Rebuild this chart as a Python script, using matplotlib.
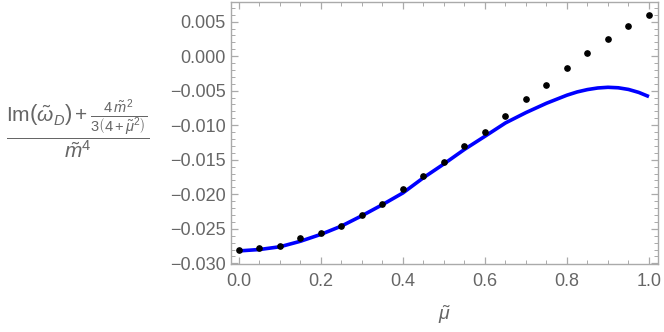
import matplotlib.pyplot as plt
from matplotlib.ticker import MultipleLocator

plt.rcParams['mathtext.fontset'] = 'custom'
plt.rcParams['mathtext.rm'] = 'Liberation Sans'
plt.rcParams['mathtext.it'] = 'Liberation Sans:italic'
plt.rcParams['mathtext.bf'] = 'Liberation Sans:bold'
plt.rcParams['font.family'] = 'Liberation Sans'

# numerical points
mu_pts = [0.0, 0.05, 0.1, 0.15, 0.2, 0.25, 0.3, 0.35, 0.4, 0.45, 0.5,
          0.55, 0.6, 0.65, 0.7, 0.75, 0.8, 0.85, 0.9, 0.95, 1.0]
val_pts = [-0.0281, -0.0278, -0.0275, -0.02637, -0.02565, -0.0246, -0.0230,
           -0.02137, -0.0193, -0.01729, -0.01527, -0.01307, -0.0110, -0.0086,
           -0.00624, -0.00413, -0.00173, 0.00039, 0.00255, 0.00437, 0.00601]

# analytic curve
mu_line = [0.0, 0.05, 0.1, 0.15, 0.2, 0.25, 0.3, 0.35, 0.4, 0.45, 0.5,
           0.55, 0.6, 0.65, 0.7, 0.75, 0.8, 0.825, 0.85, 0.875, 0.9,
           0.925, 0.95, 0.975, 1.0]
val_line = [-0.0282, -0.0280, -0.0276, -0.0268, -0.0258, -0.0246, -0.0231,
            -0.0215, -0.0198, -0.0176, -0.0156, -0.0135, -0.0116, -0.00967,
            -0.00817, -0.00682, -0.00565, -0.00518, -0.00484, -0.00461,
            -0.00451, -0.00458, -0.00482, -0.00525, -0.00586]

frame = '#aaaaaa'
txt = '#666666'

fig = plt.figure(figsize=(6.64, 3.32), dpi=100)
ax = fig.add_axes([231 / 664, 1 - 264.3 / 332, 427 / 664, 262.3 / 332])

ax.plot(mu_line, val_line, color='#0000ff', lw=2.6, zorder=2,
        solid_capstyle='butt')
ax.plot(mu_pts, val_pts, 'o', color='black', ms=3.8, zorder=3)

ax.set_xlim(-0.0195, 1.022)
ax.set_ylim(-0.03014, 0.00784)

ax.xaxis.set_major_locator(MultipleLocator(0.2))
ax.xaxis.set_minor_locator(MultipleLocator(0.05))
ax.yaxis.set_major_locator(MultipleLocator(0.005))
ax.yaxis.set_minor_locator(MultipleLocator(0.001))
ax.xaxis.set_major_formatter(plt.FuncFormatter(lambda v, p: f'{v:.1f}'))
ax.yaxis.set_major_formatter(plt.FuncFormatter(
    lambda v, p: f'{v:.3f}'.replace('-', '\u2212') if abs(v) > 1e-9 else '0.000'))

for s in ax.spines.values():
    s.set_color(frame)
    s.set_linewidth(1.0)
ax.tick_params(which='both', direction='in', top=True, right=True,
               color=frame, labelcolor=txt, labelsize=13)
ax.tick_params(which='major', length=5, width=0.9)
ax.tick_params(which='minor', length=3, width=0.7)
ax.tick_params(axis='x', pad=6)
ax.tick_params(axis='y', pad=4)

ax.set_xlabel(r'$\tilde{\mu}$', color=txt, fontsize=14, labelpad=10)

ylab = (r'$\dfrac{\mathrm{Im}\left(\tilde{\omega}_D\right)+'
        r'\frac{4\,\tilde{m}^2}{3\left(4+\tilde{\mu}^2\right)}}{\tilde{m}^4}$')
fig.text(78 / 664, 1 - 130 / 332, ylab, color=txt, fontsize=15,
         ha='center', va='center')

fig.savefig('out.png', dpi=100)
